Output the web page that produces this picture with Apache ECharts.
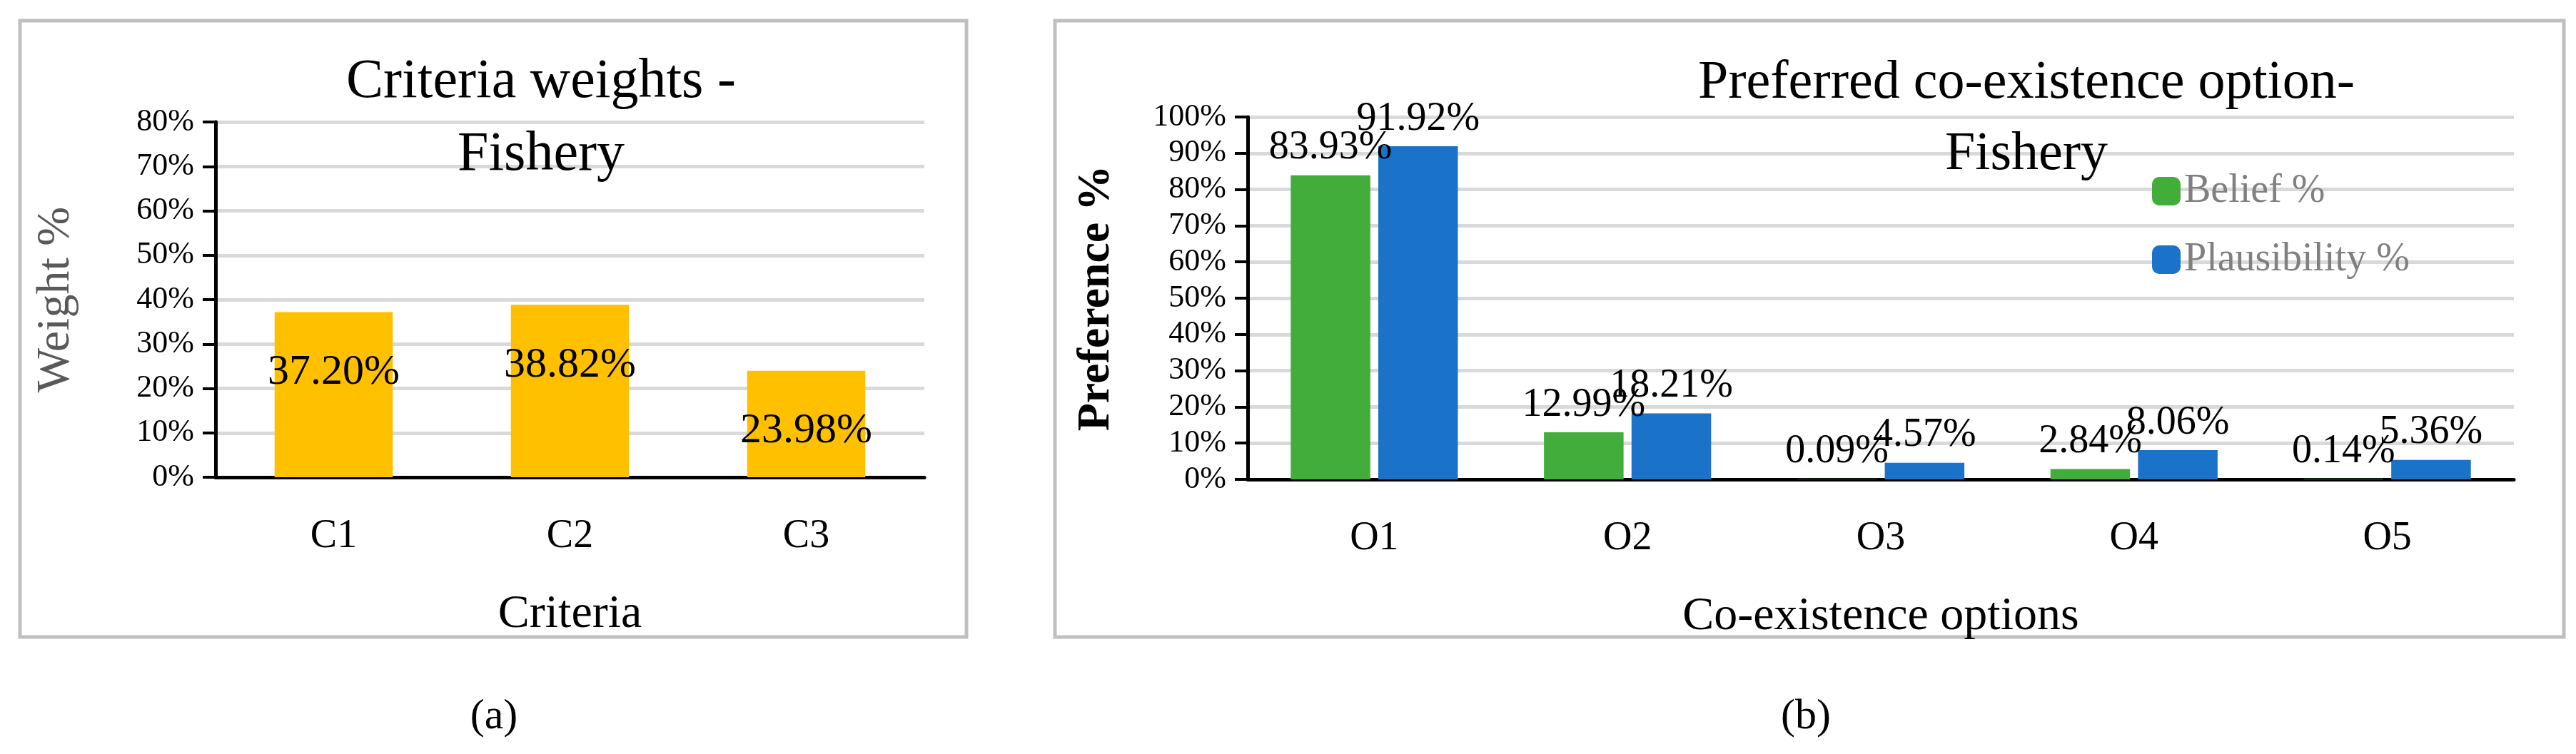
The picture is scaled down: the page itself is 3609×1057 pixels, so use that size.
<!DOCTYPE html>
<html>
<head>
<meta charset="utf-8">
<script src="https://cdn.jsdelivr.net/npm/echarts@6/dist/echarts.min.js"></script>
<style>html,body{margin:0;background:#fff}#container{width:3609px;height:1057px}</style>
</head>
<body>
<div id="container"></div>
<script>
var criteria = ['C1', 'C2', 'C3'];
var weights = [37.20, 38.82, 23.98];
var options = ['O1', 'O2', 'O3', 'O4', 'O5'];
var belief = [83.93, 12.99, 0.09, 2.84, 0.14];
var plausibility = [91.92, 18.21, 4.57, 8.06, 5.36];

var font = 'Liberation Serif';
var myChart = echarts.init(document.getElementById('container'));

function pct(v) { return v.toFixed(2) + '%'; }

var yAxisBase = {
    type: 'value', min: 0,
    axisLine: { show: true, lineStyle: { color: '#000', width: 5 } },
    axisTick: { show: true, length: 18, lineStyle: { color: '#000', width: 4 } },
    splitLine: { lineStyle: { color: '#d9d9d9', width: 5 } },
    axisLabel: { formatter: '{value}%', fontFamily: font, fontSize: 44, color: '#000', margin: 30 }
};
var xAxisBase = {
    type: 'category',
    axisLine: { lineStyle: { color: '#000', width: 5 } },
    axisTick: { show: false },
    axisLabel: { fontFamily: font, fontSize: 56, color: '#000', margin: 55 },
    nameLocation: 'middle',
    nameTextStyle: { fontFamily: font, fontSize: 66, color: '#000' }
};

var option = {
    animation: false,
    title: [
        { text: 'Criteria weights -\nFishery', left: 753, top: 60, textAlign: 'center',
          textStyle: { fontFamily: font, fontSize: 78, fontWeight: 'normal', color: '#000', lineHeight: 102 } },
        { text: 'Preferred co-existence option-\nFishery', left: 2834, top: 62, textAlign: 'center',
          textStyle: { fontFamily: font, fontSize: 76, fontWeight: 'normal', color: '#000', lineHeight: 100 } }
    ],
    legend: {
        left: 3010, top: 235, orient: 'vertical', itemGap: 40,
        itemWidth: 40, itemHeight: 40,
        textStyle: { fontFamily: font, fontSize: 56, color: '#808080' },
        data: ['Belief %', 'Plausibility %']
    },
    grid: [
        { left: 302, width: 993, top: 171, height: 498 },
        { left: 1748, width: 1774, top: 164, height: 508 }
    ],
    xAxis: [
        Object.assign({}, xAxisBase, { gridIndex: 0, data: criteria, name: 'Criteria', nameGap: 160 }),
        Object.assign({}, xAxisBase, { gridIndex: 1, data: options, name: 'Co-existence options', nameGap: 160 })
    ],
    yAxis: [
        Object.assign({}, yAxisBase, { gridIndex: 0, max: 80, interval: 10, name: 'Weight %',
            nameLocation: 'middle', nameGap: 190,
            nameTextStyle: { fontFamily: font, fontSize: 66, color: '#595959' } }),
        Object.assign({}, yAxisBase, { gridIndex: 1, max: 100, interval: 10, name: 'Preference %',
            nameLocation: 'middle', nameGap: 180,
            nameTextStyle: { fontFamily: font, fontSize: 64, color: '#000', fontWeight: 'bold' } })
    ],
    series: [
        {
            name: 'Weight', type: 'bar', xAxisIndex: 0, yAxisIndex: 0,
            data: weights, barWidth: '50%',
            itemStyle: { color: '#ffc000' },
            label: { show: true, position: 'insideTop', distance: 55, fontFamily: font, fontSize: 60, color: '#000',
                     formatter: function (p) { return pct(p.value); } }
        },
        {
            name: 'Belief %', type: 'bar', xAxisIndex: 1, yAxisIndex: 1,
            data: belief, barGap: '10%', barCategoryGap: '34%',
            itemStyle: { color: '#43ad3b' },
            label: { show: true, position: 'top', distance: 10, fontFamily: font, fontSize: 56, color: '#000',
                     formatter: function (p) { return pct(p.value); } }
        },
        {
            name: 'Plausibility %', type: 'bar', xAxisIndex: 1, yAxisIndex: 1,
            data: plausibility, barGap: '10%', barCategoryGap: '34%',
            itemStyle: { color: '#1a73c9' },
            label: { show: true, position: 'top', distance: 10, fontFamily: font, fontSize: 56, color: '#000',
                     formatter: function (p) { return pct(p.value); } }
        }
    ],
    graphic: [
        { type: 'rect', shape: { x: 28, y: 29, width: 1326, height: 864 },
          style: { fill: 'none', stroke: '#bfbfbf', lineWidth: 5 } },
        { type: 'rect', shape: { x: 1478, y: 29, width: 2114, height: 864 },
          style: { fill: 'none', stroke: '#bfbfbf', lineWidth: 5 } },
        { type: 'text', x: 692, y: 1005, style: { text: '(a)', fontFamily: font, fontSize: 60, fill: '#000',
          align: 'center', verticalAlign: 'middle', rich: {} } },
        { type: 'text', x: 2530, y: 1005, style: { text: '(b)', fontFamily: font, fontSize: 60, fill: '#000',
          align: 'center', verticalAlign: 'middle' } }
    ]
};
myChart.setOption(option);
</script>
</body>
</html>
